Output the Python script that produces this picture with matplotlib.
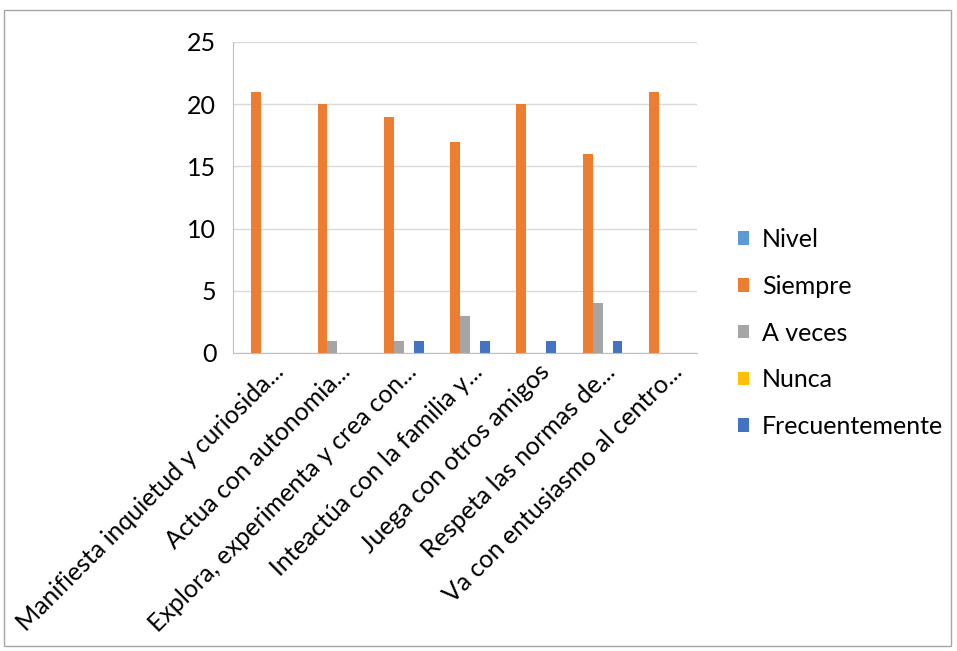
import numpy as np
import matplotlib.pyplot as plt
import matplotlib.transforms as mtrans
from matplotlib.patches import Rectangle

plt.rcParams['font.family'] = ['Lato', 'DejaVu Sans']

categorias = ["Manifiesta inquietud y curiosida...", "Actua con autonomia...",
              "Explora, experimenta y crea con...", "Inteactúa con la familia y...",
              "Juega con otros amigos", "Respeta las normas de...",
              "Va con entusiasmo al centro..."]
series = ["Nivel", "Siempre", "A veces", "Nunca", "Frecuentemente"]
nivel = [0, 0, 0, 0, 0, 0, 0]
siempre = [21, 20, 19, 17, 20, 16, 21]
a_veces = [0, 1, 1, 3, 0, 4, 0]
nunca = [0, 0, 0, 0, 0, 0, 0]
frecuentemente = [0, 0, 1, 1, 1, 1, 0]
colores = ["#5B9BD5", "#ED7D31", "#A5A5A5", "#FFC000", "#4472C4"]

valores = [nivel, siempre, a_veces, nunca, frecuentemente]

fig = plt.figure(figsize=(9.57, 6.51), dpi=100)
ax = fig.add_axes([0.2435, 0.4578, 0.4849, 0.4777])

x = np.arange(len(categorias))
w = 0.15
for i, (nombre, vals, c) in enumerate(zip(series, valores, colores)):
    ax.bar(x + (i - 2) * w, vals, width=w, color=c, label=nombre)

ax.set_xlim(-0.5, len(categorias) - 0.5)
ax.set_ylim(0, 25)
ax.set_yticks([0, 5, 10, 15, 20, 25])
ax.yaxis.grid(True, color="#D9D9D9", linewidth=1)
ax.set_axisbelow(True)
for s in ["top", "right"]:
    ax.spines[s].set_visible(False)
ax.spines["left"].set_color("#BFBFBF")
ax.spines["bottom"].set_color("#BFBFBF")
ax.tick_params(axis="both", length=0, labelsize=18, colors="black")
ax.tick_params(axis="y", pad=12)

ax.set_xticks(x)
ax.set_xticklabels(categorias, rotation=45, ha="right", va="top",
                   rotation_mode="anchor", fontsize=18)
off = mtrans.ScaledTranslation(0.06, -0.02, fig.dpi_scale_trans)
for lab in ax.get_xticklabels():
    lab.set_transform(lab.get_transform() + off)

leg = ax.legend(loc="center left", bbox_to_anchor=(1.04, 0.064), frameon=False,
                fontsize=18, handlelength=0.45, handleheight=0.45,
                handletextpad=0.5, labelspacing=0.95)

fig.patches.append(Rectangle((0.004, 0.008), 0.99, 0.977, transform=fig.transFigure,
                             fill=False, edgecolor="#A6A6A6", linewidth=1))

fig.savefig("out.png", dpi=100)
